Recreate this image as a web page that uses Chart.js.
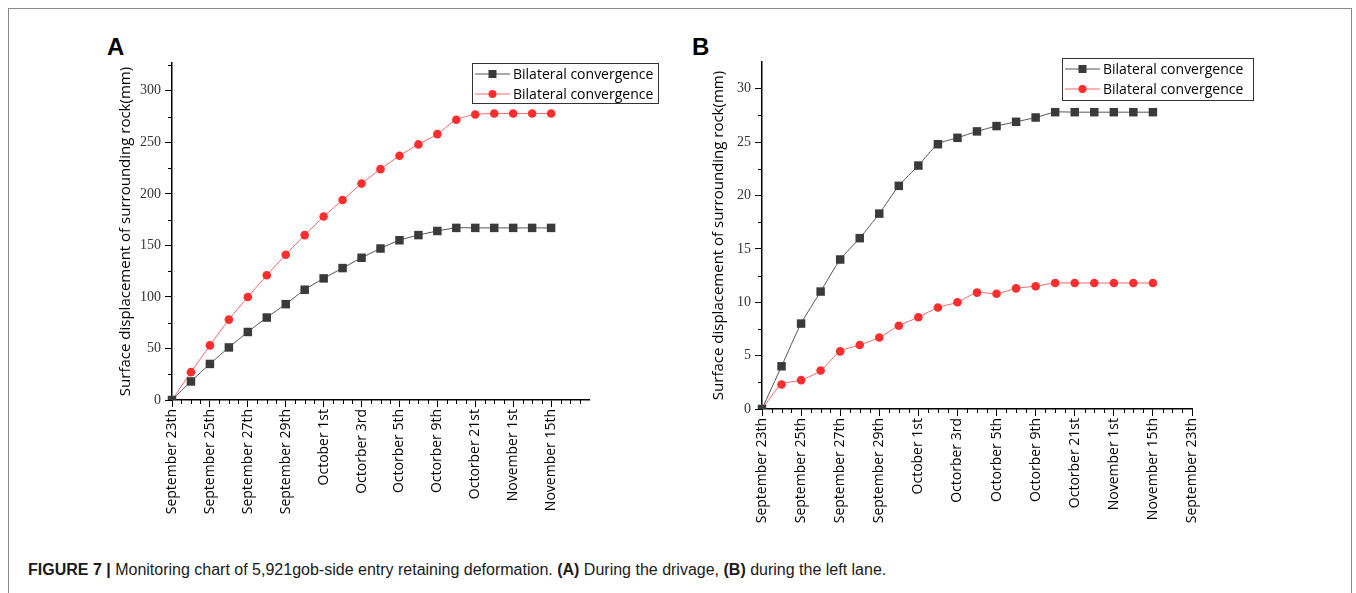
<!DOCTYPE html>
<html>
<head>
<meta charset="utf-8">
<script src="https://cdn.jsdelivr.net/npm/chart.js@4.4.1/dist/chart.umd.min.js"></script>
<style>
body{margin:0;background:#fff;width:1356px;height:593px;position:relative;overflow:hidden;font-family:'Liberation Sans',Arial,sans-serif}
#frame{position:absolute;left:8px;top:8px;width:1344px;height:600px;border:1.5px solid #8a8a8a;box-sizing:border-box}
.tag{position:absolute;font:bold 24px 'Liberation Sans',Arial,sans-serif;color:#000}
.box{position:absolute}
#caption{position:absolute;left:28px;top:561px;font-size:16px;color:#1a1a1a;white-space:nowrap;font-family:'Liberation Sans Narrow','Liberation Sans',Arial,sans-serif}
</style>
</head>
<body>
<div id="frame"></div>
<div class="tag" style="left:107px;top:33px">A</div>
<div class="tag" style="left:692px;top:33px">B</div>
<div class="box" style="left:95px;top:40px;width:600px;height:500px"><canvas id="chartA" width="600" height="500"></canvas></div>
<div class="box" style="left:680px;top:40px;width:600px;height:500px"><canvas id="chartB" width="600" height="500"></canvas></div>
<div id="caption"><b>FIGURE 7 |</b> Monitoring chart of 5,921gob-side entry retaining deformation. <b>(A)</b> During the drivage, <b>(B)</b> during the left lane.</div>
<script>
// x categories, one per reading (every second one is labelled)
const datesA = ['September 23th','','September 25th','','September 27th','','September 29th','','October 1st','','Octorber 3rd','','Octorber 5th','','Octorber 9th','','Octorber 21st','','November 1st','','November 15th','',''];
const datesB = ['September 23th','','September 25th','','September 27th','','September 29th','','October 1st','','Octorber 3rd','','Octorber 5th','','Octorber 9th','','Octorber 21st','','November 1st','','November 15th','','September 23th'];

const seriesName = 'Bilateral convergence';

// (A) during the drivage, mm
const blackA = [0,18,35,51,66,80,93,107,118,128,138,147,155,160,164,167,167,167,167,167,167];
const redA   = [0,27,53,78,100,121,141,160,178,194,210,224,237,248,258,272,277,278,278,278,278];

// (B) during the left lane, mm
const blackB = [0,4,8,11,14,16,18.3,20.9,22.8,24.8,25.4,26,26.5,26.9,27.3,27.8,27.8,27.8,27.8,27.8,27.8];
const redB   = [0,2.3,2.7,3.6,5.4,6.0,6.7,7.8,8.6,9.5,10,10.9,10.8,11.3,11.5,11.8,11.8,11.8,11.8,11.8,11.8];

const yTitle = 'Surface displacement of surrounding rock(mm)';

// short ticks between labelled ones + framed legend with line and marker
const originBits = {
  id:'originBits',
  afterDraw(chart, args, opts){
    const c = chart.ctx, xs = chart.scales.x, ys = chart.scales.y;
    const a = chart.chartArea;
    c.save();
    c.strokeStyle = '#000';
    c.lineWidth = 1;
    c.beginPath();
    for(let i=0.5;i<=xs.max+0.01;i+=0.5){
      if(Number.isInteger(i) && i%2===0) continue;
      const px = Math.round(xs.getPixelForValue(i))+0.5;
      c.moveTo(px,a.bottom); c.lineTo(px,a.bottom+4);
    }
    for(let v=opts.minor; v<ys.max; v+=opts.minor*2){
      const py = Math.round(ys.getPixelForValue(v))+0.5;
      c.moveTo(a.left,py); c.lineTo(a.left-4,py);
    }
    c.stroke();

    // legend
    const L = opts.legend;
    c.fillStyle = '#fff';
    c.fillRect(L.x,L.y,L.w,L.h);
    c.strokeStyle = '#333';
    c.lineWidth = 1;
    c.strokeRect(L.x+0.5,L.y+0.5,L.w,L.h);
    c.font = '14px "Open Sans", sans-serif';
    c.textBaseline = 'middle';
    chart.data.datasets.forEach((ds,k)=>{
      const yy = L.y + 11 + k*20;
      c.strokeStyle = ds.borderColor;
      c.lineWidth = 1;
      c.beginPath(); c.moveTo(L.x+3,yy); c.lineTo(L.x+38,yy); c.stroke();
      c.fillStyle = ds.pointBackgroundColor;
      c.beginPath();
      if(ds.pointStyle==='rect') c.rect(L.x+16.5,yy-4,8,8);
      else c.arc(L.x+20.5,yy,4,0,Math.PI*2);
      c.fill();
      c.fillStyle = '#000';
      c.fillText(ds.label, L.x+41, yy+1);
    });
    c.restore();
  }
};

function makeChart(id, cats, black, red, yMax, yStep, pad, yW, xH, titlePad, legend){
  return new Chart(document.getElementById(id), {
    type:'line',
    data:{
      labels:cats,
      datasets:[
        {label:seriesName,data:black,borderColor:'#555',borderWidth:1,pointStyle:'rect',pointRadius:6,
         pointBackgroundColor:'#3a3a3a',pointBorderColor:'#3a3a3a',pointBorderWidth:0,tension:0.25},
        {label:seriesName,data:red,borderColor:'#f06a6a',borderWidth:1,pointStyle:'circle',pointRadius:4.3,
         pointBackgroundColor:'#ff2e2e',pointBorderColor:'#ff2e2e',pointBorderWidth:0,tension:0.25}
      ]
    },
    options:{
      responsive:false,
      animation:false,
      layout:{padding:pad},
      plugins:{legend:{display:false},tooltip:{enabled:false},
        originBits:{minor:yStep/2,legend:legend}},
      scales:{
        x:{
          type:'category',
          offset:false,
          border:{display:true,color:'#000',width:1.5},
          grid:{drawOnChartArea:false,tickLength:7,
            tickColor:ctx=>(ctx.tick && ctx.tick.label)?'#000':'rgba(0,0,0,0)'},
          ticks:{autoSkip:false,minRotation:90,maxRotation:90,padding:2,color:'#000',
            font:{family:'"Open Sans", sans-serif',size:14}},
          afterFit:s=>{s.height=xH;}
        },
        y:{
          min:0,max:yMax,
          border:{display:true,color:'#000',width:1.5},
          grid:{drawOnChartArea:false,tickLength:7,tickColor:'#000'},
          ticks:{stepSize:yStep,includeBounds:false,padding:4,color:'#333',
            font:{family:'"Liberation Serif", serif',size:14}},
          title:{display:true,text:yTitle,color:'#000',padding:{top:titlePad,bottom:0},
            font:{family:'"Open Sans", sans-serif',size:15}},
          afterFit:s=>{s.width=yW;}
        }
      }
    },
    plugins:[originBits]
  });
}

makeChart('chartA', datesA, blackA, redA, 327, 50,
  {top:23,right:106,bottom:0,left:0}, 77, 140, 22,
  {x:377,y:23,w:186,h:40});
makeChart('chartB', datesB, blackB, redB, 32.5, 5,
  {top:22,right:88,bottom:0,left:0}, 82, 131, 30,
  {x:382,y:18,w:191,h:42});
</script>
</body>
</html>
